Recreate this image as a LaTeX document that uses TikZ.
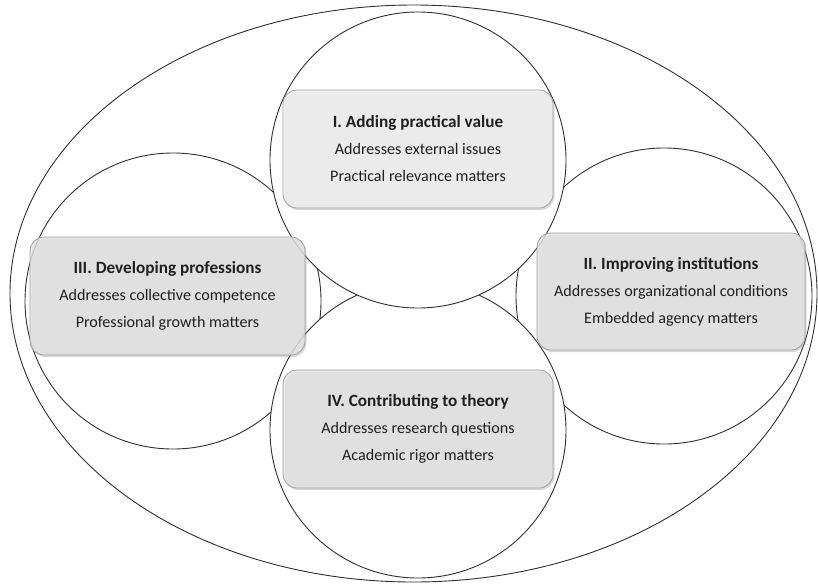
\documentclass[tikz,border=0pt]{standalone}
\usepackage{fontspec}
\setmainfont{Carlito}
\usetikzlibrary{shapes.geometric,shadows}
\definecolor{boxlight}{HTML}{F0F0F0}
\definecolor{boxdark}{HTML}{E2E2E2}
\definecolor{boxline}{HTML}{A0A0A0}
\definecolor{ringline}{HTML}{303030}
\tikzset{
  ring/.style={circle, draw=ringline, fill=white, line width=0.9pt, minimum size=296pt, inner sep=0pt},
  infobox/.style={draw=boxline, line width=0.8pt, rounded corners=14pt, align=center,
    inner sep=0pt, font=\fontsize{16.1}{27}\selectfont, text=black!88, fill opacity=0.8, text opacity=1,
    drop shadow={opacity=0.3, shadow xshift=1.5pt, shadow yshift=-2pt}},
}
\newcommand{\boxtitle}[1]{{\bfseries\fontsize{17.2}{27}\selectfont #1}}
\begin{document}
\begin{tikzpicture}[x=1pt,y=-1pt]
\useasboundingbox (0,0) rectangle (818,584);
% outer ellipse and rings (back to front)
\node[ellipse, draw=ringline, line width=0.9pt, minimum width=807pt, minimum height=577pt, inner sep=0pt] (outer) at (413.5,293.5) {};
\node[ring] (c3) at (173,301) {};
\node[ring] (c2) at (664,296) {};
\node[ring] (c4) at (418,430) {};
\node[ring] (c1) at (418,160) {};
% boxes
\node[infobox, fill=boxlight, minimum width=270pt, minimum height=118pt] (b1) at (418,149)
  {\boxtitle{I. Adding practical value}\\Addresses external issues\\Practical relevance matters};
\node[infobox, fill=boxdark, minimum width=275pt, minimum height=118pt] (b3) at (167.5,296)
  {\boxtitle{III. Developing professions}\\Addresses collective competence\\Professional growth matters};
\node[infobox, fill=boxdark, minimum width=268pt, minimum height=117pt] (b2) at (671,291.5)
  {\boxtitle{II. Improving institutions}\\Addresses organizational conditions\\Embedded agency matters};
\node[infobox, fill=boxdark, minimum width=270pt, minimum height=118pt] (b4) at (418,429)
  {\boxtitle{IV. Contributing to theory}\\Addresses research questions\\Academic rigor matters};
\end{tikzpicture}
\end{document}
